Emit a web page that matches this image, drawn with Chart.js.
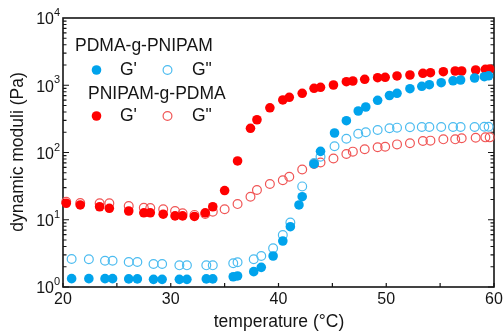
<!DOCTYPE html>
<html>
<head>
<meta charset="utf-8">
<script src="https://cdn.jsdelivr.net/npm/chart.js@4/dist/chart.umd.min.js"></script>
<style>
    html, body { margin: 0; padding: 0; background: #fff; }
    #wrap { width: 503px; height: 331px; position: relative; }
</style>
</head>
<body>
<div id="wrap"><canvas id="moduli-chart"></canvas></div>
<script>
// temperature sweeps (°C) and moduli (Pa)
const tempPdma = [20.8, 22.4, 23.9, 24.6, 26.1, 26.9, 28.4, 29.2, 30.8, 31.5,
    33.3, 33.9, 35.8, 36.2, 37.7, 38.4, 39.5, 40.4, 41.1, 41.9,
    42.2, 43.3, 43.9, 45.2, 46.3, 47.4, 48.1, 49.2, 50.3, 51.0,
    52.2, 53.3, 54.0, 55.1, 56.2, 56.9, 58.2, 59.1, 59.5];
const gPrimePdma = [1.33, 1.33, 1.33, 1.33, 1.32, 1.32, 1.30, 1.30, 1.30, 1.30,
    1.32, 1.32, 1.42, 1.46, 1.69, 1.96, 2.89, 4.83, 7.88, 16.6,
    22.0, 67.5, 104, 195, 297, 414, 475, 597, 704, 759,
    889, 964, 1019, 1091, 1165, 1197, 1282, 1340, 1383];
const gDoublePdma = [2.61, 2.58, 2.46, 2.46, 2.35, 2.35, 2.20, 2.20, 2.10, 2.10,
    2.10, 2.10, 2.25, 2.33, 2.58, 2.89, 3.76, 5.93, 9.10, null,
    31.3, 69.8, 86.6, 124, 160, 190, 200, 216, 229, 234,
    238, 239, 239, 240, 240, 240, 240, 241, 241];

const tempPnipam = [20.3, 21.6, 23.4, 24.3, 26.1, 27.5, 28.1, 29.3, 30.4, 31.1,
    32.2, 33.2, 33.9, 35.0, 36.2, 37.4, 38.0, 39.2, 40.4, 41.0,
    42.2, 43.3, 43.9, 45.1, 46.3, 46.9, 48.0, 49.2, 49.9, 51.0,
    52.2, 53.4, 54.1, 55.3, 56.4, 57.0, 58.3, 59.2, 59.6];
const gPrimePnipam = [17.6, 16.6, 15.6, 14.8, 13.5, 12.7, 12.7, 12.1, 11.4, 11.4,
    11.2, 12.7, 15.6, 27.2, 74.8, 229, 307, 462, 604, 662,
    759, 901, 933, 1009, 1129, 1156, 1225, 1295, 1313, 1374,
    1420, 1506, 1537, 1589, 1629, 1629, 1686, 1726, 1745];
const gDoublePnipam = [18.5, 17.7, 17.6, 17.6, 16.0, 15.1, 14.9, 14.3, 13.5, 12.5,
    11.8, 12.2, 13.2, 14.3, 17.1, 22.0, 27.7, 34.0, 38.6, 43.7,
    55.9, 67.5, 71.0, 81.5, 95.0, 103, 112, 120, 122, 132,
    137, 148, 150, 157, 157, 163, 166, 168, 168];

const xTicks = [20, 30, 40, 50, 60];
const xMinorTicks = [25, 35, 45, 55];
const yExponents = [0, 1, 2, 3, 4];

const BLUE = '#00a3ec';
const BLUE_OPEN = '#4cbcf0';
const RED = '#ff0000';
const RED_OPEN = '#f05555';
const INK = '#151515';
const FONT = '"Liberation Sans", Arial, sans-serif';

const toPoints = (xs, ys) => xs.map((t, i) => ({ x: t, y: ys[i] })).filter(p => p.y !== null);

// === Axes, ticks and frame (drawn under the markers) ===
const framePlugin = {
    id: 'frame',
    beforeDatasetsDraw(chart) {
        const { ctx, chartArea: a, scales: { x, y } } = chart;
        ctx.save();
        ctx.strokeStyle = INK;
        ctx.lineWidth = 1.6;
        ctx.strokeRect(a.left, a.top, a.right - a.left, a.bottom - a.top);

        ctx.lineWidth = 1.2;
        ctx.beginPath();
        // x ticks point inward from the bottom axis
        xTicks.concat(xMinorTicks).forEach(t => {
            const px = x.getPixelForValue(t);
            ctx.moveTo(px, a.bottom);
            ctx.lineTo(px, a.bottom - 4);
        });
        // y log ticks on left and right, inward
        for (let e = 0; e < 4; e++) {
            for (let m = 1; m <= 9; m++) {
                const py = y.getPixelForValue(m * Math.pow(10, e));
                const len = m === 1 ? 6 : 3.5;
                ctx.moveTo(a.left, py);
                ctx.lineTo(a.left + len, py);
                ctx.moveTo(a.right, py);
                ctx.lineTo(a.right - len, py);
            }
        }
        ctx.stroke();
        ctx.restore();
    },
    afterDraw(chart) {
        const { ctx, chartArea: a, scales: { x, y } } = chart;
        ctx.save();
        ctx.fillStyle = INK;

        // x tick labels
        ctx.font = `16px ${FONT}`;
        ctx.textAlign = 'center';
        ctx.textBaseline = 'middle';
        xTicks.forEach(t => ctx.fillText(String(t), x.getPixelForValue(t), 300));

        // y tick labels as 10 with superscript exponent
        yExponents.forEach(e => {
            const py = y.getPixelForValue(Math.pow(10, e));
            ctx.font = `16px ${FONT}`;
            ctx.textAlign = 'right';
            ctx.textBaseline = 'middle';
            ctx.fillText('10', a.left - 9, py + 2);
            ctx.font = `11px ${FONT}`;
            ctx.textAlign = 'left';
            ctx.fillText(String(e), a.left - 9, py - 5);
        });

        // axis titles
        ctx.font = `17.5px ${FONT}`;
        ctx.textAlign = 'center';
        ctx.textBaseline = 'middle';
        ctx.fillText('temperature (°C)', 279, 322);
        ctx.save();
        ctx.translate(18, 152);
        ctx.rotate(-Math.PI / 2);
        ctx.fillText('dynamic moduli (Pa)', 0, 0);
        ctx.restore();

        // legend block inside the plot
        const rows = [
            { title: 'PDMA-g-PNIPAM', tx: 75, ty: 46, my: 70, fill: BLUE, open: BLUE_OPEN },
            { title: 'PNIPAM-g-PDMA', tx: 88, ty: 94, my: 116, fill: RED, open: RED_OPEN }
        ];
        rows.forEach(r => {
            ctx.fillStyle = INK;
            ctx.font = `17.5px ${FONT}`;
            ctx.textAlign = 'left';
            ctx.textBaseline = 'middle';
            ctx.fillText(r.title, r.tx, r.ty);
            ctx.fillText("G'", 120, r.my);
            ctx.fillText('G"', 192, r.my);

            ctx.beginPath();
            ctx.arc(96.5, r.my, 4.8, 0, Math.PI * 2);
            ctx.fillStyle = r.fill;
            ctx.fill();

            ctx.beginPath();
            ctx.arc(167.5, r.my, 4.4, 0, Math.PI * 2);
            ctx.strokeStyle = r.open;
            ctx.lineWidth = 1.2;
            ctx.stroke();
        });
        ctx.restore();
    }
};

const openStyle = (color) => ({
    pointRadius: 4.4,
    pointBackgroundColor: 'rgba(255,255,255,0)',
    pointBorderColor: color,
    pointBorderWidth: 1.2
});
const filledStyle = (color) => ({
    pointRadius: 4.8,
    pointBackgroundColor: color,
    pointBorderColor: color,
    pointBorderWidth: 0
});

new Chart(document.getElementById('moduli-chart'), {
    type: 'scatter',
    data: {
        datasets: [
            { label: "PNIPAM-g-PDMA G''", data: toPoints(tempPnipam, gDoublePnipam), order: 4, ...openStyle(RED_OPEN) },
            { label: "PNIPAM-g-PDMA G'", data: toPoints(tempPnipam, gPrimePnipam), order: 3, ...filledStyle(RED) },
            { label: "PDMA-g-PNIPAM G''", data: toPoints(tempPdma, gDoublePdma), order: 2, ...openStyle(BLUE_OPEN) },
            { label: "PDMA-g-PNIPAM G'", data: toPoints(tempPdma, gPrimePdma), order: 1, ...filledStyle(BLUE) }
        ]
    },
    options: {
        responsive: true,
        maintainAspectRatio: false,
        animation: false,
        clip: false,
        layout: { padding: { left: 63, right: 9, top: 18, bottom: 44 } },
        plugins: {
            legend: { display: false },
            tooltip: { enabled: false }
        },
        scales: {
            x: { type: 'linear', min: 20, max: 60, display: false },
            y: { type: 'logarithmic', min: 1, max: 10000, display: false }
        }
    },
    plugins: [framePlugin]
});
</script>
</body>
</html>
